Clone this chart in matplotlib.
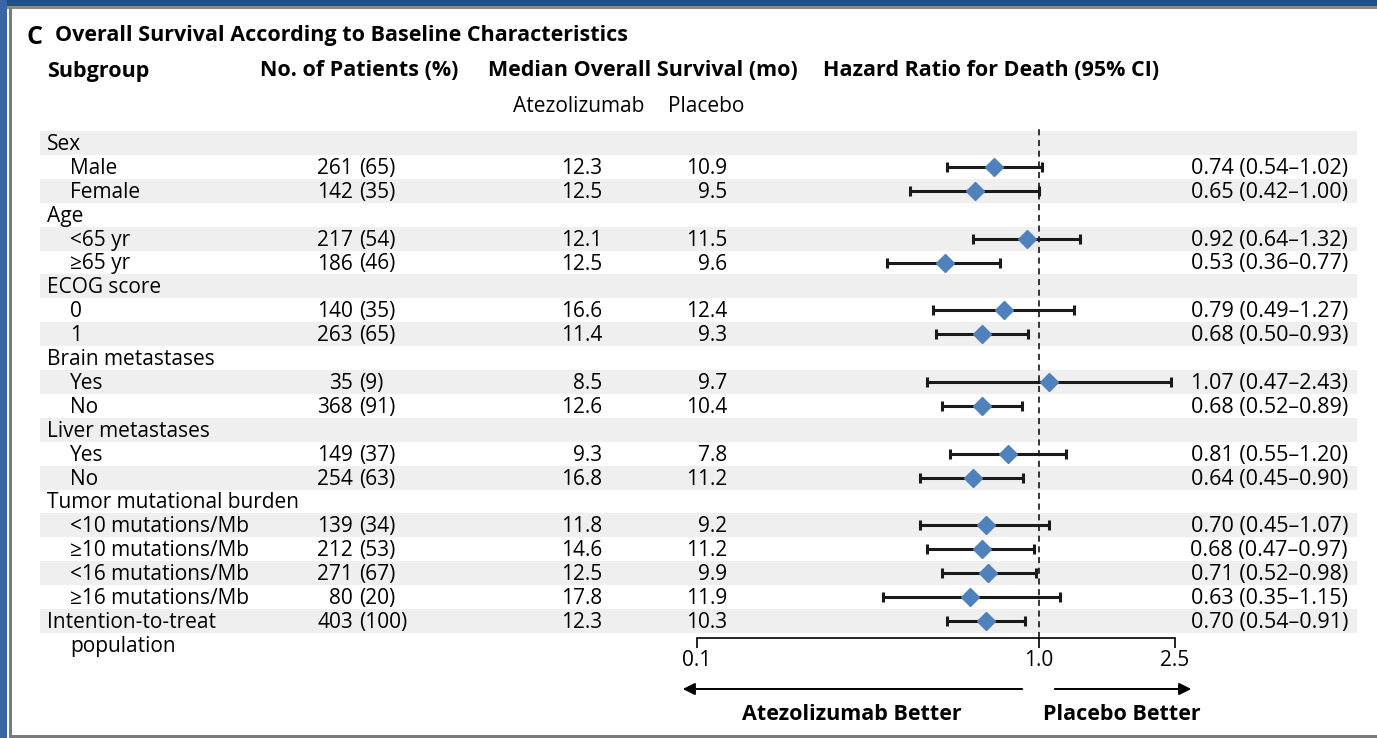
import matplotlib.pyplot as plt
from matplotlib.patches import Rectangle

plt.rcParams['font.family'] = ['Open Sans', 'DejaVu Sans']

# subgroup table, top to bottom
labels = ["Sex", "Male", "Female",
          "Age", "<65 yr", "≥65 yr",
          "ECOG score", "0", "1",
          "Brain metastases", "Yes", "No",
          "Liver metastases", "Yes", "No",
          "Tumor mutational burden", "<10 mutations/Mb", "≥10 mutations/Mb",
          "<16 mutations/Mb", "≥16 mutations/Mb",
          "Intention-to-treat"]
is_group = [True, False, False, True, False, False, True, False, False,
            True, False, False, True, False, False, True, False, False,
            False, False, True]
has_data = [False, True, True, False, True, True, False, True, True,
            False, True, True, False, True, True, False, True, True,
            True, True, True]

n_patients = [261, 142, 217, 186, 140, 263, 35, 368, 149, 254,
              139, 212, 271, 80, 403]
pct = [65, 35, 54, 46, 35, 65, 9, 91, 37, 63, 34, 53, 67, 20, 100]
os_atezo = [12.3, 12.5, 12.1, 12.5, 16.6, 11.4, 8.5, 12.6, 9.3, 16.8,
            11.8, 14.6, 12.5, 17.8, 12.3]
os_placebo = [10.9, 9.5, 11.5, 9.6, 12.4, 9.3, 9.7, 10.4, 7.8, 11.2,
              9.2, 11.2, 9.9, 11.9, 10.3]
hr = [0.74, 0.65, 0.92, 0.53, 0.79, 0.68, 1.07, 0.68, 0.81, 0.64,
      0.70, 0.68, 0.71, 0.63, 0.70]
ci_lo = [0.54, 0.42, 0.64, 0.36, 0.49, 0.50, 0.47, 0.52, 0.55, 0.45,
         0.45, 0.47, 0.52, 0.35, 0.54]
ci_hi = [1.02, 1.00, 1.32, 0.77, 1.27, 0.93, 2.43, 0.89, 1.20, 0.90,
         1.07, 0.97, 0.98, 1.15, 0.91]

hr_ticks = [0.1, 1.0, 2.5]
hr_ticklabels = ["0.1", "1.0", "2.5"]

W, H = 1377, 738
row0, row_h = 143, 23.9
axis_y, top_y = 638, 128
fs = 15
dy = 1.5          # text sits a touch below the stripe centre
diamond = '#4f81bd'

fig = plt.figure(figsize=(W / 100, H / 100), dpi=100)
ax = fig.add_axes([0, 0, 1, 1])
ax.set_xlim(0, W)
ax.set_ylim(H, 0)
ax.axis('off')

# blue page frame
ax.add_patch(Rectangle((0, 0), W, 6, color='#1f4f8f', lw=0))
ax.add_patch(Rectangle((0, 6), W, 2.5, color='#8a8a8a', lw=0))
ax.add_patch(Rectangle((0, 0), 6.5, H, color='#3a66a6', lw=0))
ax.add_patch(Rectangle((9, 8), 3, H, color='#7a7a7a', lw=0))
ax.add_patch(Rectangle((9, H - 3.5), W, 3.5, color='#7a7a7a', lw=0))


def ry(i):
    return row0 + i * row_h


# alternating row shading
for i in range(len(labels)):
    if i % 2 == 0:
        ax.add_patch(Rectangle((40, ry(i) - row_h / 2), 1317, row_h,
                               color='#efefef', lw=0, zorder=0))

# title and column headings
ax.text(26, 37, "C", fontsize=18, fontweight='bold', va='center')
ax.text(55, 36, "Overall Survival According to Baseline Characteristics",
        fontsize=fs + 0.5, fontweight='bold', va='center')
ax.text(47, 71, "Subgroup", fontsize=fs + 0.5, fontweight='bold', va='center')
ax.text(260, 71, "No. of Patients (%)", fontsize=fs + 0.5, fontweight='bold', va='center')
ax.text(488, 71, "Median Overall Survival (mo)", fontsize=fs + 0.5, fontweight='bold', va='center')
ax.text(823, 71, "Hazard Ratio for Death (95% CI)", fontsize=fs + 0.5, fontweight='bold', va='center')
ax.text(513, 107, "Atezolizumab", fontsize=fs, va='center')
ax.text(668, 107, "Placebo", fontsize=fs, va='center')

k = 0
rows = []
for i, lab in enumerate(labels):
    y = ry(i) + dy
    ax.text(47 if is_group[i] else 70, y, lab, fontsize=fs, va='center')
    if not has_data[i]:
        continue
    rows.append(i)
    ax.text(353, y, str(n_patients[k]), fontsize=fs, va='center', ha='right')
    ax.text(359, y, f"({pct[k]})", fontsize=fs, va='center')
    ax.text(602, y, f"{os_atezo[k]:.1f}", fontsize=fs, va='center', ha='right')
    ax.text(727, y, f"{os_placebo[k]:.1f}", fontsize=fs, va='center', ha='right')
    ax.text(1348, y, f"{hr[k]:.2f} ({ci_lo[k]:.2f}\u2013{ci_hi[k]:.2f})",
            fontsize=fs + 0.5, va='center', ha='right')
    k += 1
ax.text(70, ry(len(labels)) + dy, "population", fontsize=fs, va='center')

# forest plot on a log hazard-ratio scale
x0, x1 = 697, 1175
fa = fig.add_axes([x0 / W, (H - axis_y) / H, (x1 - x0) / W, (axis_y - top_y) / H])
fa.set_xscale('log')
fa.set_xlim(hr_ticks[0], hr_ticks[-1])
fa.set_ylim((axis_y - row0) / row_h, (top_y - row0) / row_h)
fa.patch.set_visible(False)
for s in ['top', 'left', 'right']:
    fa.spines[s].set_visible(False)
fa.spines['bottom'].set_linewidth(1.2)
fa.set_yticks([])
fa.set_xticks(hr_ticks)
fa.set_xticklabels(hr_ticklabels, fontsize=fs)
fa.minorticks_off()
fa.tick_params(axis='x', direction='out', length=7, width=1.2, pad=1.5)
fa.axvline(1.0, color='black', lw=1.1, ls=(0, (4, 3)), zorder=1)

for k, i in enumerate(rows):
    fa.errorbar(hr[k], i, xerr=[[hr[k] - ci_lo[k]], [ci_hi[k] - hr[k]]],
                fmt='none', ecolor='#1a1a1a', elinewidth=2.2, capsize=3.5,
                capthick=2.2, zorder=2)
    fa.plot(hr[k], i, marker='D', ms=9, color=diamond, mec=diamond, zorder=3)

# direction arrows
arrow = dict(arrowstyle='-|>', color='black', lw=1.4, mutation_scale=18)
ax.annotate("", xy=(680, 689), xytext=(1025, 689), arrowprops=arrow)
ax.annotate("", xy=(1194, 689), xytext=(1052, 689), arrowprops=arrow)
ax.text(852, 714, "Atezolizumab Better", fontsize=fs + 0.5, fontweight='bold',
        va='center', ha='center')
ax.text(1122, 714, "Placebo Better", fontsize=fs + 0.5, fontweight='bold',
        va='center', ha='center')

fig.savefig('out.png', dpi=100)
